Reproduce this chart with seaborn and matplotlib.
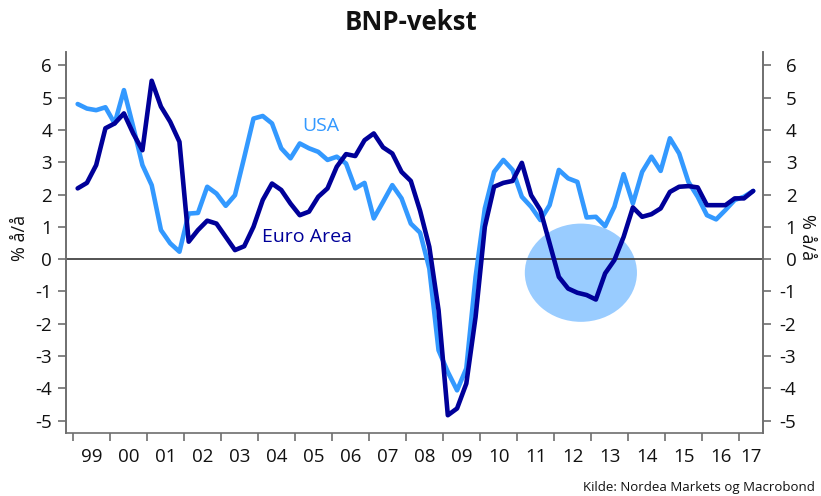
import matplotlib
matplotlib.use("Agg")
import matplotlib.pyplot as plt
from matplotlib.patches import Ellipse
import numpy as np
import pandas as pd
import seaborn as sns

# ---------------- data ----------------
quarters = pd.period_range("1999Q1", "2017Q2", freq="Q")

euro_area = [2.19, 2.36, 2.91, 4.05, 4.20, 4.51, 3.89, 3.37, 5.52, 4.72, 4.25, 3.63,
             0.54, 0.90, 1.19, 1.10, 0.69, 0.28, 0.40,
             1.00, 1.83, 2.34, 2.14, 1.72, 1.36, 1.47, 1.93, 2.19, 2.86, 3.25, 3.19,
             3.68, 3.89, 3.46, 3.27, 2.70, 2.42, 1.50,
             0.38, -1.58, -4.83, -4.62, -3.85, -1.79, 1.00, 2.24, 2.36, 2.42,
             2.98, 1.98, 1.52, 0.49, -0.55, -0.91, -1.04, -1.11, -1.25, -0.44, -0.03,
             0.69, 1.60, 1.31, 1.39, 1.57, 2.08, 2.24, 2.26, 2.22, 1.67, 1.67, 1.67,
             1.88, 1.88, 2.11]

usa = [4.80, 4.66, 4.61, 4.70, 4.20, 5.23, 4.10, 2.91, 2.29, 0.90, 0.49, 0.23,
       1.41, 1.43, 2.24, 2.03, 1.65, 1.98, 3.15,
       4.35, 4.43, 4.20, 3.43, 3.12, 3.58, 3.43, 3.32, 3.07, 3.17, 2.96, 2.19,
       2.36, 1.26, 1.77, 2.29, 1.88, 1.10, 0.82,
       -0.29, -2.82, -3.49, -4.06, -3.38, -0.55, 1.57, 2.70, 3.07, 2.76,
       1.93, 1.62, 1.21, 1.67, 2.76, 2.50, 2.39, 1.29, 1.31, 1.02, 1.62, 2.63,
       1.72, 2.70, 3.17, 2.73, 3.74, 3.27, 2.39, 1.93, 1.36, 1.23, 1.52, 1.83,
       1.93, 2.11]

years = list(range(1999, 2018))
year_labels = ["99", "00", "01", "02", "03", "04", "05", "06", "07", "08",
               "09", "10", "11", "12", "13", "14", "15", "16", "17"]
y_ticks = list(range(-5, 7))

# highlight ellipse (center year, center value, width in years, height in %)
highlight = dict(cx=2012.72, cy=-0.42, w=3.03, h=3.04)

title = "BNP-vekst"
ylabel = "% å/å"
source = "Kilde: Nordea Markets og Macrobond"

# ---------------- style ----------------
USA_C = "#3399FF"
EURO_C = "#000099"
ELL_C = "#99CCFF"
AX_C = "#6E6E6E"

sns.set_style("white")
plt.rcParams["font.family"] = ["Open Sans", "DejaVu Sans"]
plt.rcParams["axes.unicode_minus"] = False

t = np.array([q.year + (q.quarter - 1) / 4 + 0.125 for q in quarters])
df = pd.DataFrame({"t": t, "Euro Area": euro_area, "USA": usa})

fig = plt.figure(figsize=(8.21, 4.96), dpi=100)
ax = fig.add_axes([66 / 821, 1 - 433 / 496, (763 - 66) / 821, (433 - 52) / 496])

xmin, xmax = 1998.81, 2017.64
ymin, ymax = -5.38, 6.41

ax.add_patch(Ellipse((highlight["cx"], highlight["cy"]), highlight["w"], highlight["h"],
                     facecolor=ELL_C, edgecolor="none", zorder=1))
ax.axhline(0, color="#444444", lw=1.3, zorder=1.5)

sns.lineplot(data=df, x="t", y="USA", ax=ax, color=USA_C, linewidth=3.3, zorder=3)
sns.lineplot(data=df, x="t", y="Euro Area", ax=ax, color=EURO_C, linewidth=3.3, zorder=4)

ax.set_xlim(xmin, xmax)
ax.set_ylim(ymin, ymax)
ax.set_xlabel("")
ax.set_ylabel("")

# x axis: tick marks at year boundaries, labels centred in each year
ax.set_xticks(years)
ax.set_xticklabels([])
label_pos = [(y + min(y + 1, xmax)) / 2 for y in years]
ax.set_xticks(label_pos, minor=True)
ax.set_xticklabels(year_labels, minor=True)
ax.tick_params(axis="x", which="major", direction="out", length=6, width=1.2,
               color=AX_C, bottom=True)
ax.tick_params(axis="x", which="minor", length=0, pad=11, labelsize=13.5,
               labelcolor="#111111")

# left y axis
ax.set_yticks(y_ticks, labels=[str(v) for v in y_ticks])
ax.tick_params(axis="y", direction="out", length=6, width=1.2, color=AX_C,
               left=True, pad=4, labelsize=13.5, labelcolor="#111111")

# right y axis
ax2 = ax.twinx()
ax2.set_ylim(ymin, ymax)
ax2.set_yticks(y_ticks, labels=[str(v) for v in y_ticks], ha="right")
ax2.tick_params(axis="y", direction="out", length=6, width=1.2, color=AX_C,
                right=True, pad=18, labelsize=13.5, labelcolor="#111111")

for a in (ax, ax2):
    a.spines["top"].set_visible(False)
    for s in ("left", "right", "bottom"):
        a.spines[s].set_color(AX_C)
        a.spines[s].set_linewidth(1.2)
ax2.spines["bottom"].set_visible(False)

# series labels
ax.text(2005.685, 4.12, "USA", color=USA_C, fontsize=14, ha="center", va="center")
ax.text(2005.33, 0.68, "Euro Area", color=EURO_C, fontsize=14, ha="center", va="center")

# axis labels, title, source
fig.text(20 / 821, 1 - 238 / 496, ylabel, rotation=90, ha="center", va="center",
         fontsize=13, color="#111111")
fig.text(807 / 821, 1 - 237 / 496, ylabel, rotation=270, ha="center", va="center",
         fontsize=13, color="#111111")
fig.text(0.5, 1 - 22 / 496, title, ha="center", va="center", fontsize=18.5,
         fontweight="bold", color="#111111")
fig.text(815 / 821, 1 - 487 / 496, source, ha="right", va="center", fontsize=9.5,
         color="#111111")

fig.savefig("out.png", dpi=100)
